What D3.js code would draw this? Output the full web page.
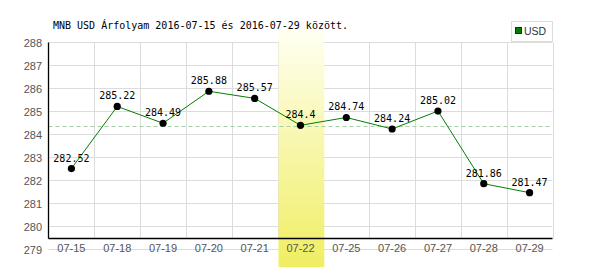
<!DOCTYPE html>
<html>
	<head>
		<meta charset="utf-8">
		<title></title>
		<style type="text/css">
			body{ margin:0; background:#fff; }
			.tick{ font-family:"Liberation Sans", Arial, sans-serif; font-size:11px; fill:#555; }
			.mono{ font-family:"DejaVu Sans Mono", monospace; font-size:10px; fill:#000; }
		</style>
	</head>
	<body>
		<div id="chart"></div>
		<script src="https://d3js.org/d3.v7.min.js"></script>
		<script>
		let title="MNB USD Árfolyam 2016-07-15 és 2016-07-29 között.";
		let dates=["07-15","07-18","07-19","07-20","07-21","07-22","07-25","07-26","07-27","07-28","07-29"];
		let rates=[282.52,285.22,284.49,285.88,285.57,284.4,284.74,284.24,285.02,281.86,281.47];
		let yTicks=[279,280,281,282,283,284,285,286,287,288];
		let avgLine=284.37;
		let highlight="07-22";
		let seriesName="USD";

		let w=600, h=270;
		let pLeft=48.5, pRight=552.5, pTop=42.5, pBottom=238.5;

		let svg=d3.select("#chart").append("svg")
			.attr("width",w)
			.attr("height",h);

		let x=d3.scaleBand().domain(dates).range([pLeft,pRight]);
		let y=d3.scaleLinear().domain([279,288]).range([249.5,42.5]);
		let cx=function(d){ return x(d)+x.bandwidth()/2; };

		// gradient for highlighted day
		let grad=svg.append("defs").append("linearGradient")
			.attr("id","hl").attr("x1",0).attr("y1",0).attr("x2",0).attr("y2",1);
		grad.append("stop").attr("offset","0%").attr("stop-color","#fffff2");
		grad.append("stop").attr("offset","100%").attr("stop-color","#f0ee62");

		// horizontal grid
		svg.selectAll("line.hg")
			.data(yTicks)
			.enter()
			.append("line")
			.attr("x1",pLeft).attr("x2",pRight)
			.attr("y1",function(d){ return y(d); })
			.attr("y2",function(d){ return y(d); })
			.attr("stroke","#dcdcdc");

		// vertical grid
		svg.selectAll("line.vg")
			.data(dates)
			.enter()
			.append("line")
			.attr("x1",function(d){ return Math.round(x(d)+x.bandwidth())+0.5; })
			.attr("x2",function(d){ return Math.round(x(d)+x.bandwidth())+0.5; })
			.attr("y1",pTop).attr("y2",pBottom)
			.attr("stroke","#dcdcdc");

		// highlight band
		svg.append("rect")
			.attr("x",Math.round(x(highlight))+0.5)
			.attr("y",30)
			.attr("width",x.bandwidth())
			.attr("height",237)
			.attr("fill","url(#hl)");

		// average dashed line
		svg.append("line")
			.attr("x1",pLeft).attr("x2",pRight)
			.attr("y1",Math.round(y(avgLine))+0.5)
			.attr("y2",Math.round(y(avgLine))+0.5)
			.attr("stroke","#a6cfa6")
			.attr("stroke-dasharray","4,3");

		// axis lines
		svg.append("line").attr("x1",pLeft).attr("x2",pLeft).attr("y1",pTop).attr("y2",pBottom)
			.attr("stroke","#000").attr("stroke-width",1.3);
		svg.append("line").attr("x1",pLeft).attr("x2",pRight).attr("y1",pBottom).attr("y2",pBottom)
			.attr("stroke","#000").attr("stroke-width",1.3);

		// y labels
		svg.selectAll("text.yl")
			.data(yTicks)
			.enter()
			.append("text")
			.attr("class","tick")
			.attr("x",42)
			.attr("y",function(d){ return y(d)+4; })
			.attr("text-anchor","end")
			.text(function(d){ return d; });

		// x labels
		svg.selectAll("text.xl")
			.data(dates)
			.enter()
			.append("text")
			.attr("class","tick")
			.attr("x",cx)
			.attr("y",252)
			.attr("text-anchor","middle")
			.text(function(d){ return d; });

		// line
		let line=d3.line()
			.x(function(d,i){ return cx(dates[i]); })
			.y(function(d){ return y(d); });
		svg.append("path")
			.datum(rates)
			.attr("d",line)
			.attr("fill","none")
			.attr("stroke","#008000")
			.attr("stroke-width",1);

		// points
		svg.selectAll("circle")
			.data(rates)
			.enter()
			.append("circle")
			.attr("cx",function(d,i){ return cx(dates[i]); })
			.attr("cy",function(d){ return y(d); })
			.attr("r",3.6)
			.attr("fill","#000");

		// value labels
		svg.selectAll("text.vl")
			.data(rates)
			.enter()
			.append("text")
			.attr("class","mono")
			.attr("x",function(d,i){ return cx(dates[i]); })
			.attr("y",function(d){ return y(d)-7; })
			.attr("text-anchor","middle")
			.text(function(d){ return d; });

		// title
		svg.append("text")
			.attr("class","mono")
			.attr("x",53)
			.attr("y",29)
			.text(title);

		// legend
		let lg=svg.append("g");
		lg.append("rect").attr("x",511.5).attr("y",21.5).attr("width",41).attr("height",20)
			.attr("fill","#fff").attr("stroke","#dcdcdc");
		lg.append("rect").attr("x",515.5).attr("y",27.5).attr("width",6).attr("height",6)
			.attr("fill","#008000").attr("stroke","#004000");
		lg.append("text").attr("class","tick").attr("x",524).attr("y",35)
			.style("font-size","10.5px").style("fill","#333")
			.text(seriesName);
		</script>
	</body>
</html>
